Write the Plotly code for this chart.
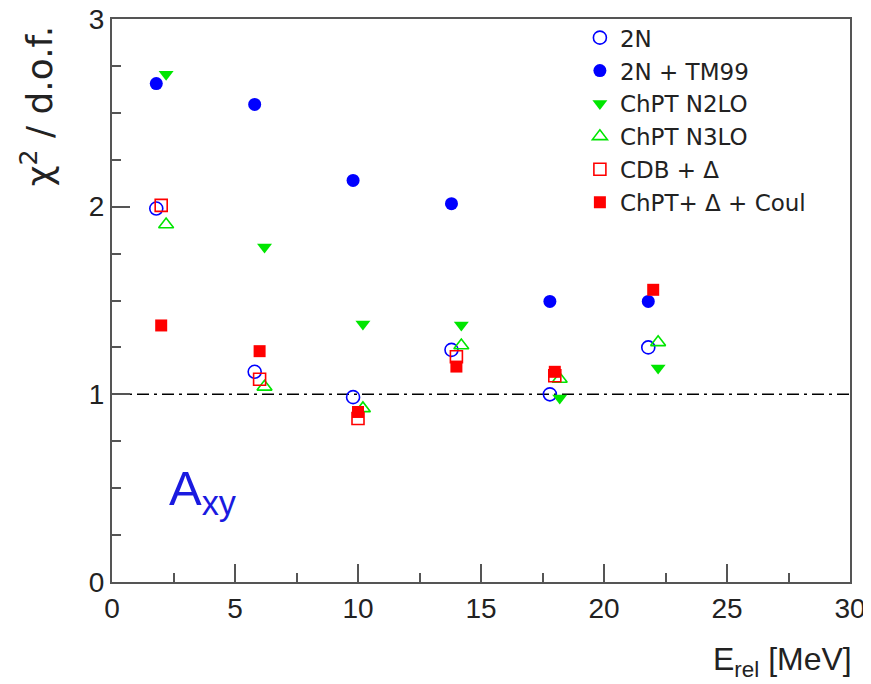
import plotly.graph_objects as go

# Data
x_2n = [1.8, 5.8, 9.8, 13.8, 17.8, 21.8]
x_mid = [2.0, 6.0, 10.0, 14.0, 18.0, 22.0]
x_chpt = [2.2, 6.2, 10.2, 14.2, 18.2, 22.2]

y_2n = [1.99, 1.12, 0.985, 1.237, 1.0, 1.25]
y_tm99 = [2.656, 2.545, 2.14, 2.016, 1.495, 1.495]
y_n2lo = [2.705, 1.785, 1.375, 1.37, 0.98, 1.14]
y_n3lo = [1.905, 1.04, 0.925, 1.26, 1.082, 1.277]
y_cdb = [2.007, 1.08, 0.871, 1.20, 1.099, None]
y_coul = [1.367, 1.23, 0.906, 1.148, 1.12, 1.557]

names = ["2N", "2N + TM99", "ChPT N2LO", "ChPT N3LO", "CDB + Δ", "ChPT+ Δ + Coul"]

BLUE = "#0000ff"
GREEN = "#00e600"
RED = "#ff0000"

fig = go.Figure()

def add(x, y, name, symbol, color, size, lw=0):
    fig.add_trace(go.Scatter(
        x=x, y=y, mode="markers", name=name,
        marker=dict(symbol=symbol, size=size, color=color,
                    line=dict(color=color, width=lw)),
    ))

add(x_2n, y_2n, names[0], "circle-open", BLUE, 13, 1.6)
add(x_2n, y_tm99, names[1], "circle", BLUE, 13)
add(x_chpt, y_n2lo, names[2], "triangle-down", GREEN, 13)
add(x_chpt, y_n3lo, names[3], "triangle-up-open", GREEN, 13, 1.6)
add(x_mid, y_cdb, names[4], "square-open", RED, 12, 1.6)
add(x_mid, y_coul, names[5], "square", RED, 12)

fig.add_shape(type="line", xref="paper", yref="y", x0=0, x1=1, y0=1, y1=1,
              line=dict(color="black", width=1.5, dash="12px,5px,3px,5px"),
              layer="below")

fig.add_annotation(x=3.7, y=0.48, xref="x", yref="y", text="A<sub>xy</sub>",
                   showarrow=False, font=dict(family="Liberation Sans", size=49, color="#1a1ae0"),
                   xanchor="center", yanchor="middle")

fig.add_annotation(xref="paper", yref="paper", x=-0.102, y=0.99,
                   text="χ<sup>2</sup> / d.o.f.", textangle=-90, showarrow=False,
                   xanchor="center", yanchor="top",
                   font=dict(family="DejaVu Sans", size=36, color="#222"))

fig.add_annotation(xref="paper", yref="paper", x=1.005, y=-0.142,
                   text="E<sub>rel</sub> [MeV]", showarrow=False,
                   xanchor="right", yanchor="middle",
                   font=dict(family="Liberation Sans", size=32, color="#222"))

axis_common = dict(
    showgrid=False, zeroline=False, showline=True, mirror=True,
    linecolor="#555", linewidth=2, ticks="inside", ticklen=18,
    tickcolor="#555", tickwidth=1.5, automargin=False,
    ticklabeloverflow="allow",
    tickfont=dict(family="Liberation Sans", size=28, color="#222"),
)

fig.update_xaxes(range=[0, 30], dtick=5, tick0=0,
                 minor=dict(dtick=2.5, ticks="inside", ticklen=9, tickcolor="#555", tickwidth=1.5),
                 **axis_common)
fig.update_yaxes(range=[0, 3], dtick=1, tick0=0,
                 minor=dict(dtick=0.25, ticks="inside", ticklen=9, tickcolor="#555", tickwidth=1.5),
                 **axis_common)

# page body has an 8px margin, so the figure is 8px smaller and shifted
fig.update_layout(
    width=863, height=676,
    margin=dict(l=103.5, r=20.5, t=11, b=102.3, autoexpand=False),
    paper_bgcolor="white", plot_bgcolor="white",
    legend=dict(x=0.634, y=1.005, xanchor="left", yanchor="top",
                bgcolor="rgba(255,255,255,0)", borderwidth=0,
                font=dict(family="DejaVu Sans", size=23, color="#222")),
    showlegend=True,
)

fig.write_html("out.html")
